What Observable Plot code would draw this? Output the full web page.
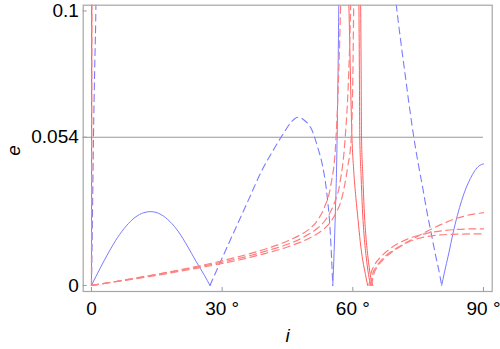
<!DOCTYPE html>
<html>
<head>
<meta charset="utf-8">
<script src="https://cdn.jsdelivr.net/npm/d3@7"></script>
<script src="https://cdn.jsdelivr.net/npm/@observablehq/plot@0.6"></script>
<style>
  body { margin: 0; background: #fff; }
  svg text { font-family: "Liberation Sans", Arial, sans-serif; }
</style>
</head>
<body>
<div id="chart"></div>
<script>
// ---- data ----
const xTicks = [0, 30, 60, 90];
const yTicks = [0, 0.054, 0.1];
const refLine = 0.054;
const xLabel = "i";
const yLabel = "e";

// blue, solid branches
const blueSolidA = [[0,0],[2,0.0063],[4,0.0122],[6,0.0175],[8,0.0217],[10,0.0248],[12,0.0265],[13.6,0.0269],[16,0.0258],[18,0.0233],[20,0.0195],[22,0.0144],[24,0.0088],[26,0.0035],[27.2,0]];
const blueSolidB = [[55.4,0],[55.7,0.012],[56.0,0.027],[56.3,0.045],[56.5,0.065],[56.7,0.090],[56.85,0.115]];
const blueSolidC = [[80.4,0],[81,0.0045],[82,0.0115],[83,0.019],[84,0.0255],[85,0.031],[86,0.0355],[87,0.039],[88,0.0418],[89,0.0436],[90,0.0443]];
// blue, dashed branches
const blueDashA = [[0,0],[0.2,0.022],[0.46,0.054],[0.75,0.08],[1.0,0.1],[1.1,0.115]];
const blueDashB = [[27.2,0],[30,0.0100],[33,0.0205],[36,0.0310],[39,0.0415],[42,0.0500],[44,0.0552],[46,0.0598],[47.4,0.0613],[49,0.0600],[50.5,0.0570],[52,0.0500],[53,0.0440],[54,0.0340],[54.8,0.0200],[55.4,0]];
const blueDashC = [[69.2,0.115],[70,0.102],[71,0.089],[72,0.077],[73,0.065],[74,0.054],[75,0.0445],[76,0.036],[77,0.027],[78,0.019],[79,0.011],[80,0.0035],[80.4,0]];
// red, solid branches
const redSolidA = [[0,0],[0.03,0.115]];
const redSolidB = [[0,0],[0.06,0.115]];
const redSolid1 = [[58.9,0.115],[59.1,0.102],[59.4,0.080],[59.8,0.054],[60.2,0.042],[60.7,0.032],[61.2,0.024],[61.7,0.016],[62.3,0.009],[62.9,0.004],[63.4,0]];
const redSolid2 = [[61.3,0.115],[61.4,0.102],[61.5,0.080],[61.6,0.054],[61.9,0.040],[62.2,0.028],[62.6,0.018],[63.1,0.010],[63.6,0.004],[64.1,0]];
const redSolid3 = [[61.7,0.115],[61.8,0.102],[61.9,0.080],[62.0,0.054],[62.3,0.040],[62.6,0.028],[63.0,0.018],[63.5,0.010],[64.0,0.004],[64.6,0]];
// red, dashed branches
const redDashA = [[0,0],[0.12,0.115]];
const redDash1 = [[0,0],[5,0.0013],[10,0.0027],[15,0.0041],[20,0.0056],[25,0.0072],[30,0.0090],[35,0.0110],[40,0.0133],[45,0.0162],[48,0.0185],[50,0.0205],[52,0.0240],[53.5,0.0285],[55,0.0370],[56,0.0500],[56.6,0.0700],[57.0,0.0900],[57.2,0.1020],[57.4,0.115]];
const redDash2 = [[0,0],[5,0.0013],[10,0.0026],[15,0.0040],[20,0.0054],[25,0.0069],[30,0.0085],[35,0.0103],[40,0.0125],[45,0.0150],[48,0.0170],[50,0.0188],[52,0.0210],[54,0.0245],[55.5,0.0290],[57,0.0370],[58.2,0.0528],[59,0.0750],[59.4,0.0950],[59.5,0.102],[59.6,0.115]];
const redDash3 = [[0,0],[5,0.0012],[10,0.0024],[15,0.0037],[20,0.0051],[25,0.0065],[30,0.0080],[35,0.0097],[40,0.0117],[45,0.0140],[48,0.0158],[50,0.0172],[52,0.0190],[54,0.0215],[56,0.0260],[57.5,0.0320],[58.8,0.0430],[59.6,0.0528],[60.0,0.075],[60.2,0.102],[60.3,0.115]];
const redDash4 = [[64.0,0],[64.6,0.0045],[65.5,0.0070],[67,0.0100],[69,0.0125],[71,0.0145],[73,0.0163],[75,0.0180],[77,0.0197],[79,0.0213],[81,0.0227],[83,0.0240],[85,0.0250],[87,0.0258],[90,0.0265]];
const redDash5 = [[63.7,0],[64.2,0.0045],[65,0.0075],[66.5,0.0105],[68.5,0.0133],[71,0.0158],[73,0.0172],[75,0.0182],[77,0.0190],[79,0.0196],[81,0.0200],[84,0.0204],[87,0.0206],[90,0.0206]];
const redDash6 = [[64.3,0],[64.8,0.0040],[65.5,0.0065],[67,0.0095],[69,0.0122],[71,0.0143],[73,0.0160],[75,0.0171],[77,0.0178],[80,0.0184],[84,0.0187],[90,0.0188]];

// ---- build table ----
const BLUE = "#7b7bff", RED = "#ff5c5c", REDD = "#ff7f7f";
const groups = [
  {name: "blueSolid", color: BLUE, dash: null, width: 1, sets: [blueSolidA, blueSolidB, blueSolidC]},
  {name: "blueDash", color: BLUE, dash: "7,4.5", width: 1.1, sets: [blueDashA, blueDashB, blueDashC]},
  {name: "redSolid", color: RED, dash: null, width: 1, sets: [redSolidA, redSolidB, redSolid1, redSolid2, redSolid3]},
  {name: "redDash", color: REDD, dash: "7,4.5", width: 1.2, sets: [redDashA, redDash1, redDash2, redDash3, redDash4, redDash5, redDash6]}
];

const xDomain = [-1.9, 92];
const yDomain = [-0.0022, 0.1021];

const lineMarks = [];
for (const g of groups) {
  const rows = [];
  g.sets.forEach((s, k) => s.forEach(([x, y]) => rows.push({x, y, id: g.name + k})));
  lineMarks.push(Plot.line(rows, {
    x: "x", y: "y", z: "id", stroke: g.color, strokeWidth: g.width,
    strokeDasharray: g.dash, curve: "monotone-x", clip: true
  }));
}

const chart = Plot.plot({
  width: 500,
  height: 349,
  marginLeft: 82.7,
  marginRight: 8.3,
  marginTop: 4.7,
  marginBottom: 58,
  style: {fontSize: "19px", fontFamily: "Liberation Sans, Arial, sans-serif", background: "#fff", color: "#000"},
  x: {domain: xDomain, label: null},
  y: {domain: yDomain, label: null},
  marks: [
    Plot.ruleY([refLine], {x1: xDomain[0], x2: 90, stroke: "#999", strokeWidth: 1.2}),
    ...lineMarks,
    Plot.frame({stroke: "#a6a6a6", strokeWidth: 1.2}),
    Plot.axisY({ticks: yTicks, tickSize: -4, tickPadding: 8.4, stroke: "#999", tickFormat: d => d === 0 ? "0" : String(d), label: null, fill: "#000"}),
    Plot.axisX({ticks: xTicks, tickSize: -4, tickPadding: 14, stroke: "#999", tickFormat: d => d === 0 ? "0" : d + " °", label: null, fill: "#000"}),
    Plot.text([yLabel], {text: d => d, frameAnchor: "left", textAnchor: "middle", lineAnchor: "middle", dx: -69.4, dy: 2, rotate: -90, fontStyle: "italic", fontSize: 19, fill: "#000"}),
    Plot.text([xLabel], {text: d => d, frameAnchor: "bottom", textAnchor: "middle", lineAnchor: "bottom", dy: 50.5, fontStyle: "italic", fontSize: 19, fill: "#000"})
  ]
});
document.getElementById("chart").appendChild(chart);
</script>
</body>
</html>
